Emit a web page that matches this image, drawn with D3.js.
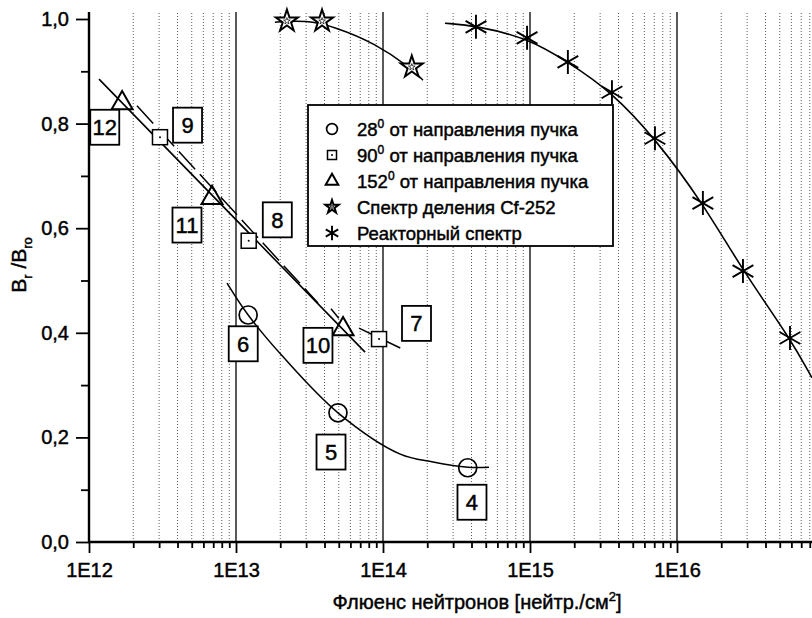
<!DOCTYPE html>
<html>
<head>
<meta charset="utf-8">
<script src="https://cdn.jsdelivr.net/npm/d3@7"></script>
<style>
  html, body { margin: 0; padding: 0; background: #fff; }
  svg { display: block; font-family: "Liberation Sans", Arial, Helvetica, sans-serif; }
  svg text { stroke: #000; stroke-width: 0.45px; fill: #000; }
</style>
</head>
<body>
<svg id="chart" width="812" height="618"></svg>
<script>
// ---------- data ----------
// 28° from beam direction (circles)
const circX = [1.21e13, 4.94e13, 3.77e14];
const circY = [0.434, 0.247, 0.142];
// 90° from beam direction (squares)
const sqX = [3.04e12, 1.22e13, 9.4e13];
const sqY = [0.774, 0.576, 0.388];
// 152° from beam direction (triangles)
const triX = [1.68e12, 6.87e12, 5.35e13];
const triY = [0.839, 0.658, 0.407];
// Cf-252 fission spectrum (stars)
const starX = [2.22e13, 3.85e13, 1.57e14];
const starY = [0.996, 0.996, 0.908];
// Reactor spectrum (asterisks)
const reacX = [4.29e14, 9.55e14, 1.81e15, 3.61e15, 7.08e15, 1.50e16, 2.81e16, 5.87e16];
const reacY = [0.985, 0.964, 0.918, 0.860, 0.772, 0.648, 0.518, 0.390];

// fitted curves
const circFitX = [8.69e12, 1.21e13, 2.09e13, 4.94e13, 1.31e14, 2.19e14, 3.78e14, 5.26e14];
const circFitY = [0.495, 0.434, 0.354, 0.247, 0.168, 0.153, 0.143, 0.143];
const starFitX = [1.84e13, 3.0e13, 4.7e13, 8.8e13, 1.57e14, 1.87e14];
const starFitY = [0.994, 0.998, 0.985, 0.954, 0.905, 0.883];
const reacFitX = [2.64e14, 4.29e14, 9.55e14, 1.81e15, 3.61e15, 7.08e15, 1.50e16, 2.81e16, 5.87e16, 8.28e16];
const reacFitY = [0.992, 0.987, 0.964, 0.918, 0.860, 0.772, 0.648, 0.518, 0.390, 0.314];
// straight fit segments
const triLineX = [1.17e12, 7.55e13];
const triLineY = [0.885, 0.363];
const sqLineX = [2.12e12, 3.61e13];
const sqLineY = [0.834, 0.457];
const triShortX = [4.43e13, 5.0e13];
const triShortY = [0.446, 0.428];
const sqShortX = [6.87e13, 1.31e14];
const sqShortY = [0.409, 0.371];

// numbered sample labels
const labelText = ["12", "9", "11", "8", "6", "10", "5", "7", "4"];
const labelX = [1.28e12, 4.68e12, 4.64e12, 1.91e13, 1.12e13, 3.61e13, 4.43e13, 1.69e14, 4.03e14];
const labelY = [0.793, 0.797, 0.606, 0.616, 0.379, 0.376, 0.172, 0.418, 0.076];

// axis ticks
const xMajor = [1e12, 1e13, 1e14, 1e15, 1e16];
const xMajorLabels = ["1E12", "1E13", "1E14", "1E15", "1E16"];
const yMajor = [0, 0.2, 0.4, 0.6, 0.8, 1.0];
const yMajorLabels = ["0,0", "0,2", "0,4", "0,6", "0,8", "1,0"];
const yMinor = [0.1, 0.3, 0.5, 0.7, 0.9];

const legendLabels = [
  ["28", "0", " от направления пучка"],
  ["90", "0", " от направления пучка"],
  ["152", "0", " от направления пучка"],
  ["Спектр деления Cf-252", "", ""],
  ["Реакторный спектр", "", ""]
];

// ---------- chart ----------
const svg = d3.select("#chart");
const x = d3.scaleLog().domain([1e12, 1e17]).range([89, 824]);
const y = d3.scaleLinear().domain([0, 1]).range([542, 19]);
const yTop = 12;

// minor x ticks list (2..9 per decade)
const xMinor = [];
for (let e = 12; e <= 16; e++) for (let m = 2; m <= 9; m++) xMinor.push(m * Math.pow(10, e));

// grid
const grid = svg.append("g");
grid.selectAll("line.minor").data(xMinor).join("line")
  .attr("x1", d => x(d)).attr("x2", d => x(d))
  .attr("y1", y(0)).attr("y2", yTop)
  .attr("stroke", "#333").attr("stroke-width", 0.8).attr("stroke-dasharray", "1,2");
grid.selectAll("line.major").data(xMajor.slice(1)).join("line")
  .attr("x1", d => x(d)).attr("x2", d => x(d))
  .attr("y1", y(0)).attr("y2", yTop)
  .attr("stroke", "#000").attr("stroke-width", 1.3);

// x axis
const xAxisG = svg.append("g").attr("transform", `translate(0,${y(0)})`);
xAxisG.call(d3.axisBottom(x).tickValues(xMajor).tickFormat((d, i) => xMajorLabels[i])
  .tickSize(11).tickPadding(10).tickSizeOuter(0));
xAxisG.append("g").call(d3.axisBottom(x).tickValues(xMinor).tickFormat("").tickSize(6).tickSizeOuter(0));
xAxisG.selectAll(".domain").remove();
xAxisG.selectAll("line").attr("stroke", "#000").attr("stroke-width", 1.8);
xAxisG.selectAll("text").attr("font-size", 20).attr("fill", "#000")
  .attr("font-family", "'Liberation Sans', Arial, sans-serif");
svg.append("line").attr("x1", x(1e12) - 1).attr("x2", 812).attr("y1", y(0)).attr("y2", y(0))
  .attr("stroke", "#000").attr("stroke-width", 2.4);

// y axis
const yAxisG = svg.append("g").attr("transform", `translate(${x(1e12)},0)`);
yAxisG.call(d3.axisLeft(y).tickValues(yMajor).tickFormat((d, i) => yMajorLabels[i])
  .tickSize(13).tickPadding(7).tickSizeOuter(0));
yAxisG.append("g").call(d3.axisLeft(y).tickValues(yMinor).tickFormat("").tickSize(8).tickSizeOuter(0));
yAxisG.selectAll(".domain").remove();
yAxisG.selectAll("line").attr("stroke", "#000").attr("stroke-width", 1.8);
yAxisG.selectAll("text").attr("font-size", 20).attr("fill", "#000")
  .attr("font-family", "'Liberation Sans', Arial, sans-serif");
svg.append("line").attr("x1", x(1e12)).attr("x2", x(1e12)).attr("y1", y(0) + 1).attr("y2", yTop)
  .attr("stroke", "#000").attr("stroke-width", 2.4);

// axis titles
const xt = svg.append("text").attr("x", 477).attr("y", 609).attr("text-anchor", "middle")
  .attr("font-size", 20);
xt.append("tspan").text("Флюенс нейтронов [нейтр./см");
xt.append("tspan").attr("font-size", 13).attr("dy", -8).text("2");
xt.append("tspan").attr("dy", 8).text("]");

const yt = svg.append("text").attr("transform", "translate(26,265) rotate(-90)")
  .attr("text-anchor", "middle").attr("font-size", 21);
yt.append("tspan").text("B");
yt.append("tspan").attr("font-size", 13).attr("dy", 6).text("r");
yt.append("tspan").attr("dy", -6).text(" /B");
yt.append("tspan").attr("font-size", 13).attr("dy", 6).text("ro");

// curves
const line = d3.line().x(d => x(d[0])).y(d => y(d[1]));
const smooth = d3.line().x(d => x(d[0])).y(d => y(d[1])).curve(d3.curveCatmullRom.alpha(0.5));
const basis = d3.line().x(d => x(d[0])).y(d => y(d[1])).curve(d3.curveBasis);
const zip = (a, b) => a.map((v, i) => [v, b[i]]);

const plot = svg.append("g");
plot.append("path").datum(zip(circFitX, circFitY)).attr("d", smooth)
  .attr("fill", "none").attr("stroke", "#000").attr("stroke-width", 1.5);
plot.append("path").datum(zip(starFitX, starFitY)).attr("d", basis)
  .attr("fill", "none").attr("stroke", "#000").attr("stroke-width", 1.5);
plot.append("path").datum(zip(reacFitX, reacFitY)).attr("d", basis)
  .attr("fill", "none").attr("stroke", "#000").attr("stroke-width", 1.6);
plot.append("path").datum(zip(triLineX, triLineY)).attr("d", line)
  .attr("fill", "none").attr("stroke", "#000").attr("stroke-width", 1.6);
plot.append("path").datum(zip(sqLineX, sqLineY)).attr("d", line)
  .attr("fill", "none").attr("stroke", "#000").attr("stroke-width", 1.5).attr("stroke-dasharray", "24,7");
plot.append("path").datum(zip(triShortX, triShortY)).attr("d", line)
  .attr("fill", "none").attr("stroke", "#000").attr("stroke-width", 1.5);
plot.append("path").datum(zip(sqShortX, sqShortY)).attr("d", line)
  .attr("fill", "none").attr("stroke", "#000").attr("stroke-width", 1.5);

// symbols
function asteriskPath(r) {
  const p = [];
  [90, 30, -30].forEach(a => {
    const rad = a * Math.PI / 180, dx = r * Math.cos(rad), dy = r * Math.sin(rad);
    p.push(`M${-dx},${-dy}L${dx},${dy}`);
  });
  return p.join("");
}
function drawMarkers(g, xs, ys, kind, scale) {
  const s = scale || 1;
  const pts = zip(xs, ys);
  const sel = g.selectAll(null).data(pts).join("g")
    .attr("transform", d => `translate(${x(d[0])},${y(d[1])})`);
  addSymbol(sel, kind, s);
}
function addSymbol(sel, kind, s) {
  if (kind === "circle") {
    sel.append("circle").attr("r", 9 * s).attr("fill", "none").attr("stroke", "#000").attr("stroke-width", 1.7);
  } else if (kind === "square") {
    sel.append("rect").attr("x", -7.5 * s).attr("y", -7.5 * s).attr("width", 15 * s).attr("height", 15 * s)
      .attr("fill", "#fff").attr("stroke", "#000").attr("stroke-width", 1.5);
    sel.append("circle").attr("r", 1).attr("fill", "#000");
  } else if (kind === "triangle") {
    sel.append("path").attr("d", d3.symbol(d3.symbolTriangle, 190 * s * s)())
      .attr("fill", "none").attr("stroke", "#000").attr("stroke-width", 2).attr("stroke-linejoin", "miter");
  } else if (kind === "star") {
    sel.append("path").attr("d", d3.symbol(d3.symbolStar, 150 * s * s)())
      .attr("fill", "#fff").attr("stroke", "#000").attr("stroke-width", 2);
    sel.append("path").attr("d", d3.symbol(d3.symbolStar, 14 * s * s)())
      .attr("fill", "none").attr("stroke", "#000").attr("stroke-width", 0.7);
  } else if (kind === "asterisk") {
    sel.append("path").attr("d", asteriskPath(12 * s))
      .attr("fill", "none").attr("stroke", "#000").attr("stroke-width", 1.9);
  }
}
drawMarkers(plot, circX, circY, "circle");
drawMarkers(plot, sqX, sqY, "square");
drawMarkers(plot, triX, triY, "triangle");
drawMarkers(plot, starX, starY, "star");
drawMarkers(plot, reacX, reacY, "asterisk");

// numbered boxes
const boxes = svg.append("g").selectAll("g").data(labelText).join("g")
  .attr("transform", (d, i) => `translate(${x(labelX[i])},${y(labelY[i])})`);
boxes.append("rect").attr("x", -14.5).attr("y", -17.5).attr("width", 29).attr("height", 35)
  .attr("fill", "#fff").attr("stroke", "#000").attr("stroke-width", 1.8);
boxes.append("text").attr("text-anchor", "middle").attr("dy", "0.36em")
  .attr("font-size", 22).text(d => d);

// legend
const leg = svg.append("g");
leg.append("rect").attr("x", 308).attr("y", 105).attr("width", 305).attr("height", 141)
  .attr("fill", "#fff").attr("stroke", "#000").attr("stroke-width", 1.8);
const kinds = ["circle", "square", "triangle", "star", "asterisk"];
const items = leg.selectAll("g.item").data(legendLabels).join("g")
  .attr("transform", (d, i) => `translate(332,${129 + i * 26})`);
items.each(function (d, i) { addSymbol(d3.select(this), kinds[i], 0.6); });
const lt = items.append("text").attr("x", 25).attr("dy", "0.36em").attr("font-size", 18.5);
lt.append("tspan").text(d => d[0]);
lt.append("tspan").attr("font-size", 12).attr("dy", d => d[1] ? -8 : 0).text(d => d[1]);
lt.append("tspan").attr("dy", d => d[1] ? 8 : 0).text(d => d[2]);
</script>
</body>
</html>
